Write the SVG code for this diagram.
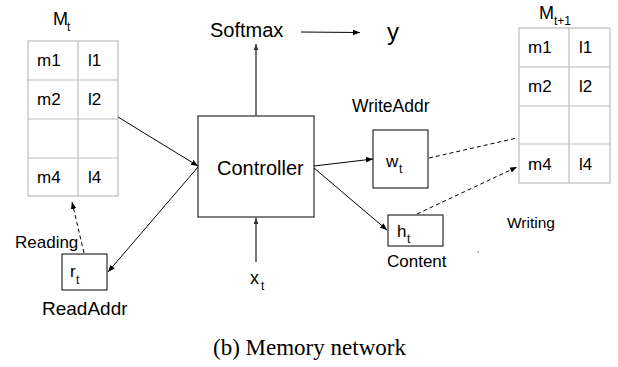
<svg xmlns="http://www.w3.org/2000/svg" width="618" height="367" viewBox="0 0 618 367">
<defs>
<marker id="ah" viewBox="0 0 10 10" refX="10" refY="5" markerWidth="7" markerHeight="7" orient="auto" markerUnits="userSpaceOnUse"><path d="M0,1 L10,5 L0,9 Z" fill="#000"/></marker>
<marker id="ahg" viewBox="0 0 10 10" refX="10" refY="5" markerWidth="6" markerHeight="6" orient="auto" markerUnits="userSpaceOnUse"><path d="M0,1 L10,5 L0,9 Z" fill="#333"/></marker>
</defs>
<style>
.t{font-family:"Liberation Sans",Arial,sans-serif;fill:#000}
.cell{font-size:17px}
.sub{font-size:12px}
.grid{fill:#fff;stroke:#bdbdbd;stroke-width:1.2}
.box{fill:#fff;stroke:#000;stroke-width:1}
.ln{stroke:#000;stroke-width:1;fill:none}
.gl{stroke:#555;stroke-width:1.6;fill:none}
.dash{stroke:#000;stroke-width:1;fill:none;stroke-dasharray:4,3}
</style>
<rect width="618" height="367" fill="#fff"/>

<g id="memory-t">
<text class="t" x="53" y="25" font-size="18">M</text><text class="t sub" x="67" y="31">t</text>
<rect class="grid" x="28" y="41" width="90" height="155"/>
<line class="grid" x1="78" y1="41" x2="78" y2="196"/>
<line class="grid" x1="28" y1="80" x2="118" y2="80"/>
<line class="grid" x1="28" y1="119" x2="118" y2="119"/>
<line class="grid" x1="28" y1="158" x2="118" y2="158"/>
<text class="t cell" x="37" y="66">m1</text><text class="t cell" x="88" y="66">l1</text>
<text class="t cell" x="37" y="105">m2</text><text class="t cell" x="88" y="105">l2</text>
<text class="t cell" x="37" y="183">m4</text><text class="t cell" x="88" y="183">l4</text>
</g>

<g id="memory-t1">
<text class="t" x="539" y="19" font-size="18">M</text><text class="t sub" x="554" y="25">t+1</text>
<rect class="grid" x="519" y="28" width="91" height="155"/>
<line class="grid" x1="569" y1="28" x2="569" y2="183"/>
<line class="grid" x1="519" y1="67" x2="610" y2="67"/>
<line class="grid" x1="519" y1="106" x2="610" y2="106"/>
<line class="grid" x1="519" y1="144" x2="610" y2="144"/>
<text class="t cell" x="528" y="53">m1</text><text class="t cell" x="579" y="53">l1</text>
<text class="t cell" x="528" y="92">m2</text><text class="t cell" x="579" y="92">l2</text>
<text class="t cell" x="528" y="170">m4</text><text class="t cell" x="579" y="170">l4</text>
</g>

<g id="controller">
<rect class="box" x="198" y="116" width="116" height="101"/>
<text class="t" x="217" y="175" font-size="20">Controller</text>
</g>

<g id="softmax">
<text class="t" x="210" y="37" font-size="20">Softmax</text>
</g>

<g id="y">
<text class="t" x="387" y="40" font-size="24">y</text>
</g>

<g id="write-addr">
<text class="t" x="352" y="112" font-size="17.5">WriteAddr</text>
<rect class="box" x="373" y="130" width="55" height="58"/>
<text class="t" x="386" y="167" font-size="17">w</text><text class="t sub" x="399" y="173">t</text>
</g>

<g id="content">
<rect class="box" x="388" y="215" width="55" height="31"/>
<text class="t" x="397" y="237" font-size="17">h</text><text class="t sub" x="407" y="243">t</text>
<text class="t" x="387" y="267" font-size="17">Content</text>
</g>

<g id="read-addr">
<rect class="box" x="62" y="254" width="45" height="36"/>
<text class="t" x="70" y="277" font-size="17">r</text><text class="t sub" x="76" y="284">t</text>
<text class="t" x="42" y="315" font-size="19">ReadAddr</text>
</g>

<g id="labels">
<text class="t" x="15" y="248" font-size="17">Reading</text>
<text class="t" x="507" y="228" font-size="15.5">Writing</text>
<text class="t" x="250" y="284" font-size="18">x</text><text class="t sub" x="261" y="290">t</text>
<text x="213" y="355" font-family="'Liberation Serif','Times New Roman',serif" font-size="23" fill="#000">(b) Memory network</text>
</g>

<g id="connectors">
<line class="ln" x1="301" y1="32" x2="360" y2="32.5" marker-end="url(#ah)"/>
<line class="gl" x1="256" y1="116" x2="256" y2="44" marker-end="url(#ahg)"/>
<line class="gl" x1="256" y1="262" x2="256" y2="218" marker-end="url(#ahg)"/>
<line class="ln" x1="118" y1="117" x2="198" y2="166" marker-end="url(#ah)"/>
<line class="ln" x1="198" y1="167" x2="108" y2="272" marker-end="url(#ah)"/>
<line class="dash" x1="84" y1="253" x2="72" y2="202" marker-end="url(#ah)"/>
<line class="ln" x1="314" y1="166" x2="373" y2="159" marker-end="url(#ah)"/>
<line class="ln" x1="314" y1="168" x2="387" y2="230" marker-end="url(#ah)"/>
<line class="dash" x1="429" y1="158" x2="517" y2="138"/>
<line class="dash" x1="417" y1="214" x2="517" y2="167" marker-end="url(#ah)"/>
<line x1="478" y1="251" x2="478.5" y2="253" stroke="#888" stroke-width="1"/>
</g>
</svg>
